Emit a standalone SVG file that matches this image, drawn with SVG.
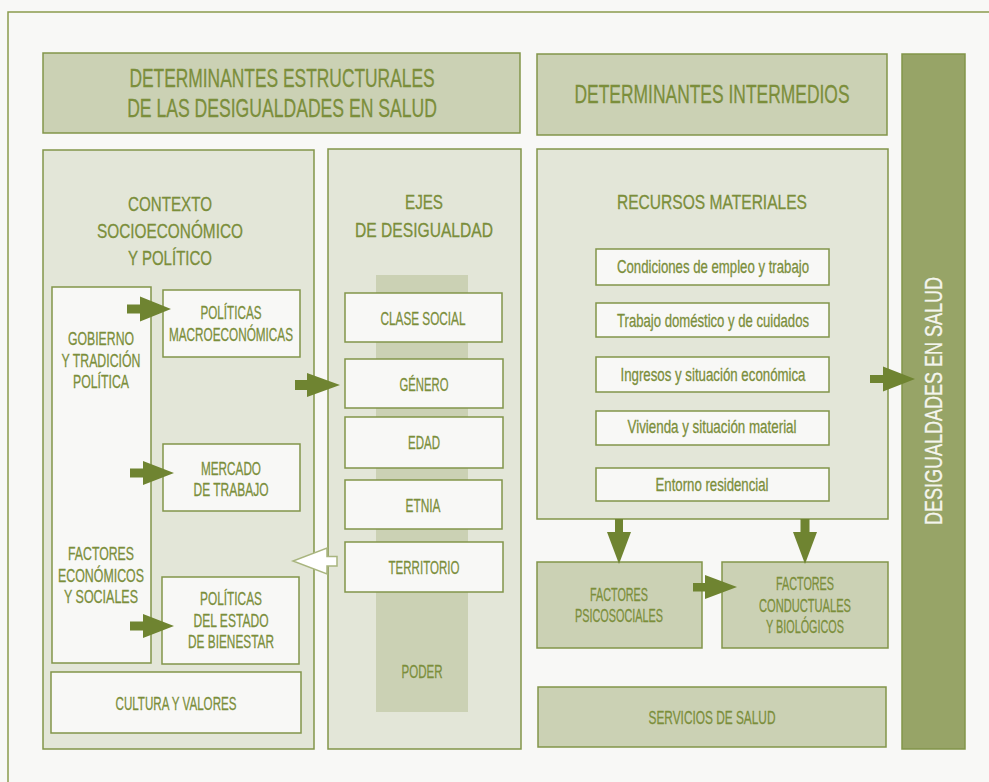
<svg xmlns="http://www.w3.org/2000/svg" width="989" height="782" viewBox="0 0 989 782">
  <style>
    .bg { fill: #f8f8f6; }
    .frame { fill: #f8f8f6; stroke: #8a9b4e; stroke-width: 1.5; }
    .panel { fill: #e3e6d8; stroke: #82954a; stroke-width: 1.5; }
    .mid { fill: #cbd1b4; stroke: #82954a; stroke-width: 1.5; }
    .box { fill: #f8f8f6; stroke: #82954a; stroke-width: 1.5; }
    .stripe { fill: #cbd1b4; }
    .bar { fill: #97a467; stroke: #82954a; stroke-width: 1.5; }
    text { font-family: "Liberation Sans Narrow", "Liberation Sans", Arial, sans-serif; fill: #7b8e3b; stroke: #7b8e3b; stroke-width: 0.3; text-anchor: middle; }
    .h1 { font-size: 26.5px; }
    .h2 { font-size: 21px; }
    .t { font-size: 19px; }
    .s { font-size: 18.5px; }
    .w { fill: #f4f5ee; stroke: #f4f5ee; font-size: 23px; }
    .arrow { fill: #6f8431; }
    .hollow { fill: #ffffff; stroke: #a9b57f; stroke-width: 1.5; }
  </style>

  <rect class="bg" x="0" y="0" width="989" height="782"/>
  <rect class="frame" x="8" y="12" width="1000" height="800"/>

  <!-- Structural determinants header -->
  <g id="hdr-estructurales">
    <rect class="mid" x="43" y="53" width="477" height="80"/>
    <text class="h1" transform="translate(282 87) scale(0.75 1)" x="0" y="0" textLength="407" lengthAdjust="spacingAndGlyphs">DETERMINANTES ESTRUCTURALES</text>
    <text class="h1" transform="translate(282 117) scale(0.75 1)" x="0" y="0" textLength="413" lengthAdjust="spacingAndGlyphs">DE LAS DESIGUALDADES EN SALUD</text>
  </g>

  <!-- Intermediate determinants header -->
  <g id="hdr-intermedios">
    <rect class="mid" x="537" y="54" width="350" height="81"/>
    <text class="h1" transform="translate(712 103) scale(0.72 1)" x="0" y="0" textLength="382" lengthAdjust="spacingAndGlyphs">DETERMINANTES INTERMEDIOS</text>
  </g>

  <!-- Socioeconomic and political context -->
  <g id="contexto">
    <rect class="panel" x="43" y="150" width="271" height="599"/>
    <text class="h2" x="170" y="211" textLength="84" lengthAdjust="spacingAndGlyphs">CONTEXTO</text>
    <text class="h2" x="170" y="238" textLength="146" lengthAdjust="spacingAndGlyphs">SOCIOECONÓMICO</text>
    <text class="h2" x="170" y="265" textLength="84" lengthAdjust="spacingAndGlyphs">Y POLÍTICO</text>
  </g>

  <g id="gobierno">
    <rect class="box" x="52" y="287" width="99" height="376"/>
    <text class="t" x="101" y="345" textLength="66" lengthAdjust="spacingAndGlyphs">GOBIERNO</text>
    <text class="t" x="101" y="367" textLength="79" lengthAdjust="spacingAndGlyphs">Y TRADICIÓN</text>
    <text class="t" x="101" y="388" textLength="56" lengthAdjust="spacingAndGlyphs">POLÍTICA</text>
    <text class="t" x="101" y="560" textLength="66" lengthAdjust="spacingAndGlyphs">FACTORES</text>
    <text class="t" x="101" y="582" textLength="86" lengthAdjust="spacingAndGlyphs">ECONÓMICOS</text>
    <text class="t" x="101" y="603" textLength="74" lengthAdjust="spacingAndGlyphs">Y SOCIALES</text>
  </g>

  <g id="politicas-macro">
    <rect class="box" x="163" y="290" width="137" height="67"/>
    <text class="t" x="231" y="319" textLength="61" lengthAdjust="spacingAndGlyphs">POLÍTICAS</text>
    <text class="t" x="231" y="341" textLength="124" lengthAdjust="spacingAndGlyphs">MACROECONÓMICAS</text>
  </g>

  <g id="mercado">
    <rect class="box" x="163" y="444" width="137" height="67"/>
    <text class="t" x="231" y="475" textLength="60" lengthAdjust="spacingAndGlyphs">MERCADO</text>
    <text class="t" x="231" y="496" textLength="75" lengthAdjust="spacingAndGlyphs">DE TRABAJO</text>
  </g>

  <g id="estado-bienestar">
    <rect class="box" x="162" y="577" width="137" height="87"/>
    <text class="t" x="231" y="605" textLength="62" lengthAdjust="spacingAndGlyphs">POLÍTICAS</text>
    <text class="t" x="231" y="627" textLength="75" lengthAdjust="spacingAndGlyphs">DEL ESTADO</text>
    <text class="t" x="231" y="648" textLength="86" lengthAdjust="spacingAndGlyphs">DE BIENESTAR</text>
  </g>

  <g id="cultura">
    <rect class="box" x="51" y="672" width="250" height="61"/>
    <text class="t" x="176" y="710" textLength="121" lengthAdjust="spacingAndGlyphs">CULTURA Y VALORES</text>
  </g>

  <!-- Axes of inequality -->
  <g id="ejes">
    <rect class="panel" x="328" y="149" width="193" height="600"/>
    <rect class="stripe" x="376" y="275" width="92" height="437"/>
    <text class="h2" x="424" y="209" textLength="38" lengthAdjust="spacingAndGlyphs">EJES</text>
    <text class="h2" x="424" y="237" textLength="138" lengthAdjust="spacingAndGlyphs">DE DESIGUALDAD</text>
    <text class="t" x="422" y="678" textLength="41" lengthAdjust="spacingAndGlyphs">PODER</text>
  </g>

  <g id="clase">
    <rect class="box" x="345" y="293" width="157" height="49"/>
    <text class="t" x="423" y="325" textLength="85" lengthAdjust="spacingAndGlyphs">CLASE SOCIAL</text>
  </g>
  <g id="genero">
    <rect class="box" x="345" y="359" width="158" height="49"/>
    <text class="t" x="424" y="391" textLength="49" lengthAdjust="spacingAndGlyphs">GÉNERO</text>
  </g>
  <g id="edad">
    <rect class="box" x="345" y="417" width="158" height="51"/>
    <text class="t" x="424" y="449" textLength="32" lengthAdjust="spacingAndGlyphs">EDAD</text>
  </g>
  <g id="etnia">
    <rect class="box" x="345" y="480" width="157" height="49"/>
    <text class="t" x="423" y="512" textLength="35" lengthAdjust="spacingAndGlyphs">ETNIA</text>
  </g>
  <g id="territorio">
    <rect class="box" x="345" y="542" width="158" height="50"/>
    <text class="t" x="424" y="574" textLength="71" lengthAdjust="spacingAndGlyphs">TERRITORIO</text>
  </g>

  <!-- Material resources -->
  <g id="recursos">
    <rect class="panel" x="537" y="149" width="351" height="370"/>
    <text class="h2" x="712" y="209" textLength="190" lengthAdjust="spacingAndGlyphs">RECURSOS MATERIALES</text>
  </g>
  <g id="empleo">
    <rect class="box" x="596" y="249" width="233" height="36"/>
    <text class="s" x="713" y="273" textLength="192" lengthAdjust="spacingAndGlyphs">Condiciones de empleo y trabajo</text>
  </g>
  <g id="domestico">
    <rect class="box" x="596" y="303" width="233" height="34"/>
    <text class="s" x="713" y="327" textLength="192" lengthAdjust="spacingAndGlyphs">Trabajo doméstico y de cuidados</text>
  </g>
  <g id="ingresos">
    <rect class="box" x="596" y="357" width="233" height="35"/>
    <text class="s" x="713" y="381" textLength="185" lengthAdjust="spacingAndGlyphs">Ingresos y situación económica</text>
  </g>
  <g id="vivienda">
    <rect class="box" x="596" y="411" width="233" height="34"/>
    <text class="s" x="712" y="433" textLength="169" lengthAdjust="spacingAndGlyphs">Vivienda y situación material</text>
  </g>
  <g id="entorno">
    <rect class="box" x="596" y="468" width="233" height="33"/>
    <text class="s" x="712" y="491" textLength="113" lengthAdjust="spacingAndGlyphs">Entorno residencial</text>
  </g>

  <g id="psicosociales">
    <rect class="mid" x="537" y="562" width="165" height="86"/>
    <text class="t" x="619" y="601" textLength="58" lengthAdjust="spacingAndGlyphs">FACTORES</text>
    <text class="t" x="619" y="622" textLength="88" lengthAdjust="spacingAndGlyphs">PSICOSOCIALES</text>
  </g>
  <g id="conductuales">
    <rect class="mid" x="722" y="562" width="166" height="86"/>
    <text class="t" x="805" y="590" textLength="58" lengthAdjust="spacingAndGlyphs">FACTORES</text>
    <text class="t" x="805" y="612" textLength="92" lengthAdjust="spacingAndGlyphs">CONDUCTUALES</text>
    <text class="t" x="805" y="633" textLength="78" lengthAdjust="spacingAndGlyphs">Y BIOLÓGICOS</text>
  </g>
  <g id="servicios">
    <rect class="mid" x="538" y="687" width="348" height="60"/>
    <text class="t" x="712" y="724" textLength="127" lengthAdjust="spacingAndGlyphs">SERVICIOS DE SALUD</text>
  </g>

  <!-- Health inequalities -->
  <g id="desigualdades">
    <rect class="bar" x="902" y="54" width="63" height="695"/>
    <text class="w" transform="translate(942 401) rotate(-90)" x="0" y="0" textLength="248" lengthAdjust="spacingAndGlyphs">DESIGUALDADES EN SALUD</text>
  </g>

  <!-- Connectors -->
  <g id="connectors">
    <polygon class="arrow" points="127,304.5 140,304.5 140,296.5 171,309 140,321.5 140,313.5 127,313.5"/>
    <polygon class="arrow" points="130,468.5 143,468.5 143,461 174,473 143,485 143,477.5 130,477.5"/>
    <polygon class="arrow" points="130,621.5 143,621.5 143,614 174,626 143,638 143,630.5 130,630.5"/>
    <polygon class="arrow" points="295,380 307,380 307,373 340,385 307,397 307,390 295,390"/>
    <polygon class="hollow" points="337,556.5 327,556.5 327,548 293,561 327,574 327,566 337,566"/>
    <polygon class="arrow" points="870,375 883,375 883,366.5 915,379 883,391.5 883,383 870,383"/>
    <polygon class="arrow" points="615,519 623,519 623,532 631,532 619,564 607,532 615,532"/>
    <polygon class="arrow" points="800.5,519 809.5,519 809.5,532 817,532 805,564 793,532 800.5,532"/>
    <polygon class="arrow" points="693,583 705,583 705,575 737,587 705,599 705,591.5 693,591.5"/>
  </g>
</svg>
